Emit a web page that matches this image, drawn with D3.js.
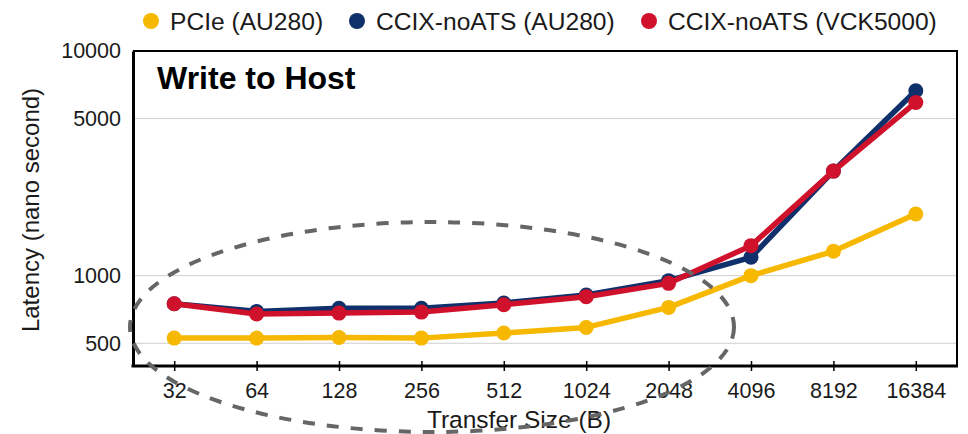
<!DOCTYPE html>
<html>
<head>
<meta charset="utf-8">
<script src="https://cdn.jsdelivr.net/npm/d3@7"></script>
<style>
  html, body { margin: 0; padding: 0; background: #fff; }
  svg { display: block; font-family: "Liberation Sans", Arial, sans-serif; }
</style>
</head>
<body>
<svg id="chart" width="968" height="434"></svg>
<script>
// ---- data ----
const categories = ["32", "64", "128", "256", "512", "1024", "2048", "4096", "8192", "16384"];
const pcieAU280 = [527, 527, 530, 527, 555, 588, 722, 1000, 1283, 1880];
const ccixAU280 = [750, 693, 715, 715, 755, 820, 950, 1207, 2920, 6650];
const ccixVCK5000 = [750, 675, 681, 688, 742, 806, 924, 1360, 2920, 5900];
const seriesNames = ["PCIe (AU280)", "CCIX-noATS (AU280)", "CCIX-noATS (VCK5000)"];
const seriesColors = ["#f6b800", "#10306b", "#d0112b"];
const yTicks = [500, 1000, 5000, 10000];
const yDomain = [396, 10000];
const chartTitle = "Write to Host";
const xTitle = "Transfer Size (B)";
const yTitle = "Latency (nano second)";

const seriesData = [pcieAU280, ccixAU280, ccixVCK5000];

// ---- layout ----
const svg = d3.select("#chart");
const plot = { left: 133, top: 51, right: 957, bottom: 366 };

const x = d3.scalePoint().domain(categories).range([plot.left, plot.right]).padding(0.5);
const y = d3.scaleLog().domain(yDomain).range([plot.bottom, plot.top]);

// gridlines
svg.append("g").selectAll("line").data(yTicks.filter(d => d < 10000)).join("line")
  .attr("x1", plot.left).attr("x2", plot.right)
  .attr("y1", d => y(d)).attr("y2", d => y(d))
  .attr("stroke", "#cfcfcf").attr("stroke-width", 1);

// top & right border
svg.append("path")
  .attr("d", `M${plot.left},${plot.top}H${plot.right}V${plot.bottom}`)
  .attr("fill", "none").attr("stroke", "#000").attr("stroke-width", 2);

// y axis
const yAxis = d3.axisLeft(y).tickValues(yTicks).tickFormat(d3.format("d")).tickSize(0).tickPadding(12);
const gy = svg.append("g").attr("transform", `translate(${plot.left},0)`).call(yAxis);
gy.select(".domain").attr("stroke", "#000").attr("stroke-width", 3);
gy.selectAll("text").attr("font-size", 21.5).attr("fill", "#1a1a1a")
  .attr("font-family", "'Liberation Sans', Arial, sans-serif");

// x axis
const xAxis = d3.axisBottom(x).tickSizeInner(5).tickSizeOuter(0).tickPadding(12);
const gx = svg.append("g").attr("transform", `translate(0,${plot.bottom})`).call(xAxis);
gx.select(".domain").attr("stroke", "#000").attr("stroke-width", 3)
  .attr("d", `M${plot.left - 1.5},0H${plot.right + 1}`);
gx.selectAll(".tick line").attr("y1", -5).attr("y2", 5).attr("stroke", "#000").attr("stroke-width", 1.5);
gx.selectAll("text").attr("font-size", 21.5).attr("fill", "#1a1a1a")
  .attr("font-family", "'Liberation Sans', Arial, sans-serif");

// series
const line = d3.line().x((d, i) => x(categories[i])).y(d => y(d));
seriesData.forEach((vals, si) => {
  const g = svg.append("g");
  g.append("path").datum(vals).attr("d", line)
    .attr("fill", "none").attr("stroke", seriesColors[si]).attr("stroke-width", 5.5)
    .attr("stroke-linejoin", "round");
  g.selectAll("circle").data(vals).join("circle")
    .attr("cx", (d, i) => x(categories[i])).attr("cy", d => y(d))
    .attr("r", 7.5).attr("fill", seriesColors[si]);
});

// chart title inside plot
svg.append("text").attr("x", 157).attr("y", 89)
  .attr("font-size", 32).attr("font-weight", "bold").attr("fill", "#000")
  .text(chartTitle);

// legend
const legendX = [151, 357, 649];
const lg = svg.append("g");
seriesNames.forEach((name, i) => {
  lg.append("circle").attr("cx", legendX[i]).attr("cy", 21).attr("r", 8).attr("fill", seriesColors[i]);
  lg.append("text").attr("x", legendX[i] + 19).attr("y", 21).attr("dy", "0.35em")
    .attr("font-size", 24.6).attr("fill", "#1a1a1a").text(name);
});

// axis titles
svg.append("text").attr("x", (plot.left + plot.right) / 2 - 26).attr("y", 428)
  .attr("text-anchor", "middle").attr("font-size", 24.5).attr("fill", "#1a1a1a").text(xTitle);
svg.append("text").attr("transform", `translate(39,210) rotate(-90)`)
  .attr("text-anchor", "middle").attr("font-size", 24).attr("fill", "#1a1a1a").text(yTitle);

// dashed ellipse annotation
svg.append("ellipse").attr("cx", 432).attr("cy", 327).attr("rx", 302).attr("ry", 105)
  .attr("fill", "none").attr("stroke", "#666").attr("stroke-width", 4)
  .attr("stroke-dasharray", "12,12");
</script>
</body>
</html>
